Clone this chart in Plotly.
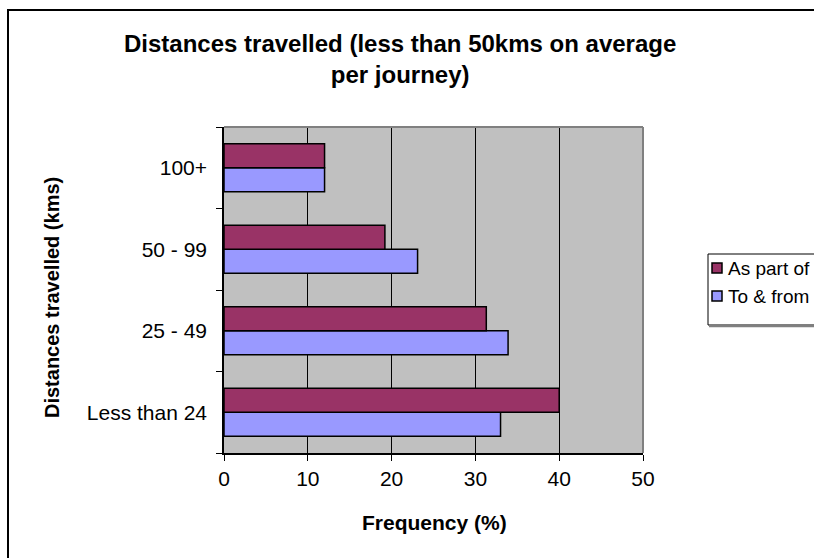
import plotly.graph_objects as go

categories = ["Less than 24", "25 - 49", "50 - 99", "100+"]
as_part_of = [40, 31.3, 19.2, 12]
to_and_from = [33, 33.9, 23.1, 12]
x_ticks = [0, 10, 20, 30, 40, 50]
series_names = ["As part of", "To & from"]
series_colors = ["#993366", "#9999FF"]

FONT = "Arial, Liberation Sans, sans-serif"
W, H = 814, 558
L, R, T, B = 224, 643, 127, 453
pw, ph = R - L, B - T

def px_x(x):
    return (x - L) / pw

def px_y(y):
    return (B - y) / ph

fig = go.Figure()
fig.add_trace(go.Bar(
    y=categories, x=to_and_from, orientation="h", name=series_names[1],
    marker=dict(color=series_colors[1], line=dict(color="black", width=1.5)),
))
fig.add_trace(go.Bar(
    y=categories, x=as_part_of, orientation="h", name=series_names[0],
    marker=dict(color=series_colors[0], line=dict(color="black", width=1.5)),
))

annotations = [
    dict(text="<b>Distances travelled (less than 50kms on average<br>per journey)</b>",
         xref="paper", yref="paper", x=px_x(400), y=px_y(59),
         xanchor="center", yanchor="middle", showarrow=False,
         font=dict(family=FONT, size=24, color="black")),
    dict(text="<b>Frequency (%)</b>", xref="paper", yref="paper",
         x=px_x(434), y=px_y(522), xanchor="center", yanchor="middle", showarrow=False,
         font=dict(family=FONT, size=21, color="black")),
    dict(text="<b>Distances travelled (kms)</b>", xref="paper", yref="paper",
         x=px_x(52), y=px_y(298), xanchor="center", yanchor="middle",
         showarrow=False, textangle=-90,
         font=dict(family=FONT, size=20, color="black")),
]

shapes = [
    # outer chart border (continues past the visible window)
    dict(type="rect", xref="paper", yref="paper",
         x0=px_x(8), x1=px_x(840), y0=px_y(580), y1=px_y(10),
         line=dict(color="black", width=2), layer="below"),
    # gray plot-area border at top and right
    dict(type="line", xref="paper", yref="paper",
         x0=0, x1=1, y0=1, y1=1, line=dict(color="#808080", width=2), layer="above"),
    dict(type="line", xref="paper", yref="paper",
         x0=1, x1=1, y0=0, y1=1, line=dict(color="#808080", width=2), layer="above"),
    # legend box (clipped by the window on the right)
    dict(type="rect", xref="paper", yref="paper",
         x0=px_x(708), x1=px_x(840), y0=px_y(325), y1=px_y(254),
         line=dict(color="black", width=1), fillcolor="white", layer="above"),
    dict(type="line", xref="paper", yref="paper",
         x0=px_x(709), x1=px_x(840), y0=px_y(326.5), y1=px_y(326.5),
         line=dict(color="#808080", width=1.5), layer="above"),
]

legend_y = [268, 296]
for name, color, ly in zip(series_names, series_colors, legend_y):
    shapes.append(dict(type="rect", xref="paper", yref="paper",
                       x0=px_x(712), x1=px_x(722), y0=px_y(ly + 5), y1=px_y(ly - 5),
                       line=dict(color="black", width=1.5), fillcolor=color, layer="above"))
    annotations.append(dict(text=name, xref="paper", yref="paper",
                            x=px_x(726), y=px_y(ly), xanchor="left", yanchor="middle",
                            showarrow=False,
                            font=dict(family=FONT, size=19, color="black")))

fig.update_layout(
    width=W, height=H,
    margin=dict(l=L, r=W - R, t=T, b=H - B, autoexpand=False),
    paper_bgcolor="white", plot_bgcolor="#C0C0C0",
    barmode="group", bargap=0.41, bargroupgap=0,
    font=dict(family=FONT, size=21, color="black"),
    showlegend=False,
    xaxis=dict(
        range=[0, 50], tickvals=x_ticks, ticks="outside", ticklen=6,
        tickcolor="black", showgrid=True, gridcolor="black", gridwidth=1,
        showline=True, linecolor="black", linewidth=1.5, zeroline=False,
        tickfont=dict(size=21), fixedrange=True,
    ),
    yaxis=dict(
        categoryorder="array", categoryarray=categories,
        tickson="boundaries", ticks="outside", ticklen=6, tickcolor="black",
        showgrid=False, showline=True, linecolor="black", linewidth=1.5,
        tickfont=dict(size=21), ticklabelstandoff=11, fixedrange=True,
    ),
    annotations=annotations,
    shapes=shapes,
)

fig.write_html("out.html", config={"displayModeBar": False},
               post_script="document.body.style.margin='0';")
